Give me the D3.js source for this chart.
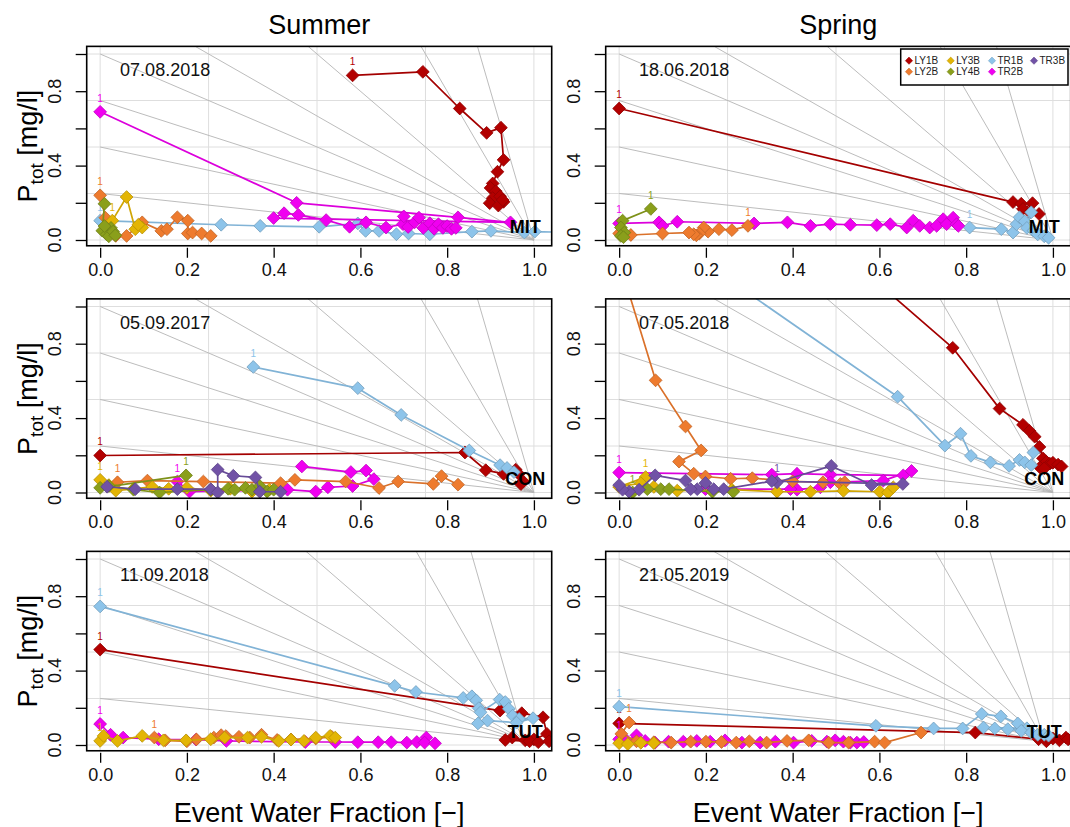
<!DOCTYPE html>
<html><head><meta charset="utf-8">
<script src="https://cdn.jsdelivr.net/npm/d3@7"></script>
<style>html,body{margin:0;padding:0;background:#fff;} svg{display:block;font-family:"Liberation Sans",Arial,Helvetica,sans-serif;}</style>
</head><body><svg id="chart" width="1070" height="827"></svg>
<script>
// ---------- categories / labels ----------
const SERIES = ["LY1B","LY2B","LY3B","LY4B","TR1B","TR2B","TR3B"];
const COLORS = ["#B30000","#EE7B2E","#E3B505","#8A9F1B","#8DC4EA","#F000F0","#7152A6"];
const DRAW_ORDER = ["LY1B","TR1B","TR2B","LY2B","LY3B","LY4B","TR3B"];
const SEASONS = ["Summer","Spring"];
const SITES = ["MIT","CON","TUT"];
const SITE_EM_X = [1.0, 1.0, 0.98];   // end-member (convergence) coordinates
const SITE_EM_Y = [0.0, 0.0, 0.02];
const DATES = [["07.08.2018","18.06.2018"],["05.09.2017","07.05.2018"],["11.09.2018","21.05.2019"]];
const X_TICKS = [0,0.2,0.4,0.6,0.8,1.0];
const Y_TICKS = [0,0.2,0.4,0.6,0.8,1.0];
const Y_TICK_LABELS = [0,0.4,0.8];
const GRID = [0,0.25,0.5,0.75,1.0];
const RAYS = [0.25,0.5,0.75,1,4/3,2,4,8];

// ---------- Summer / MIT  (07.08.2018) ----------
const sMIT_LY1B = [[0.582,0.885],[0.744,0.904],[0.829,0.707],[0.891,0.576],[0.924,0.604],[0.930,0.431],[0.916,0.367],[0.905,0.304],[0.900,0.280],[0.912,0.262],[0.905,0.225],[0.922,0.235],[0.898,0.198],[0.930,0.205],[0.918,0.185],[0.928,0.215]];
const sMIT_LY2B = [[0,0.24],[0.012,0.12],[0.036,0.022],[0.061,0.022],[0.097,0.095],[0.141,0.049],[0.154,0.058],[0.178,0.122],[0.202,0.104],[0.202,0.035],[0.213,0.04],[0.234,0.035],[0.255,0.022]];
const sMIT_LY3B = [[0.028,0.104],[0.061,0.231],[0.081,0.058],[0.097,0.067],[0.088,0.082]];
const sMIT_LY4B = [[0.01,0.195],[0.005,0.05],[0.015,0.03],[0.025,0.065],[0.02,0.02],[0.03,0.045],[0.01,0.075],[0.035,0.025]];
const sMIT_TR1B = [[0,0.104],[0.279,0.082],[0.369,0.076],[0.505,0.071],[0.594,0.089],[0.612,0.049],[0.643,0.049],[0.683,0.031],[0.711,0.035],[0.760,0.031],[0.857,0.045],[0.901,0.049],[0.978,0.04],[1.002,0.045],[1.06,0.042]];
const sMIT_TR2B = [[0,0.689],[0.453,0.2],[0.825,0.122],[0.946,0.095],[0.40,0.118],[0.424,0.144],[0.457,0.135],[0.521,0.107],[0.575,0.071],[0.613,0.095],[0.659,0.067],[0.698,0.085],[0.70,0.127],[0.71,0.07],[0.725,0.095],[0.735,0.12],[0.745,0.065],[0.76,0.09],[0.77,0.06],[0.78,0.085],[0.79,0.065],[0.80,0.075],[0.81,0.06],[0.82,0.065]];
const sMIT_TR3B = [];

// ---------- Spring / MIT  (18.06.2018) ----------
const pMIT_LY1B = [[0,0.707],[0.908,0.204],[0.927,0.195],[0.953,0.198],[0.931,0.167],[0.947,0.149],[0.968,0.14]];
const pMIT_LY2B = [[0.297,0.076],[0.26,0.053],[0.23,0.058],[0.205,0.045],[0.195,0.067],[0.185,0.035],[0.178,0.025],[0.172,0.031],[0.161,0.04],[0.1,0.035],[0.027,0.027],[0,0.035]];
const pMIT_LY3B = [];
const pMIT_LY4B = [[0.073,0.167],[0.008,0.104],[0.004,0.067],[0.012,0.04],[0.004,0.022],[0.01,0.015]];
const pMIT_TR1B = [[0.808,0.067],[0.881,0.058],[0.908,0.04],[0.916,0.085],[0.923,0.122],[0.935,0.1],[0.95,0.149],[0.94,0.065],[0.955,0.05],[0.965,0.03],[0.98,0.02],[0.99,0.012]];
const pMIT_TR2B = [[0,0.089],[0.092,0.095],[0.1,0.076],[0.134,0.098],[0.311,0.089],[0.388,0.095],[0.441,0.076],[0.487,0.085],[0.533,0.082],[0.594,0.08],[0.625,0.085],[0.663,0.067],[0.678,0.104],[0.693,0.076],[0.716,0.067],[0.732,0.076],[0.747,0.112],[0.755,0.085],[0.77,0.12],[0.778,0.085],[0.782,0.076]];
const pMIT_TR3B = [];

// ---------- Summer / CON  (05.09.2017) ----------
const sCON_LY1B = [[0,0.199],[0.841,0.215],[0.889,0.12],[0.93,0.1],[0.958,0.123],[0.965,0.1],[0.975,0.06],[0.97,0.045]];
const sCON_LY2B = [[0.04,0.055],[0.109,0.064],[0.238,0.059],[0.416,0.05],[0.449,0.068],[0.566,0.059],[0.643,0.024],[0.687,0.059],[0.768,0.046],[0.787,0.088],[0.825,0.042]];
const sCON_LY3B = [[0,0.068],[0.02,0.04],[0.036,0.01],[0.077,0.02],[0.12,0.03],[0.158,0.02],[0.2,0.025],[0.255,0.01],[0.30,0.02],[0.35,0.005],[0.39,0.015]];
const sCON_LY4B = [[0.198,0.092],[0.0,0.025],[0.02,0.035],[0.077,0.015],[0.137,0.0],[0.255,0.015],[0.295,0.02],[0.31,0.015],[0.335,0.025],[0.35,0.015],[0.368,0.035],[0.385,0.005],[0.40,0.015]];
const sCON_TR1B = [[0.353,0.675],[0.594,0.561],[0.694,0.417],[0.851,0.226],[0.922,0.147],[0.938,0.132],[0.954,0.11]];
const sCON_TR2B = [[0.178,0.059],[0.206,0.005],[0.432,0.015],[0.497,0.005],[0.525,0.028],[0.582,0.035],[0.631,0.072],[0.613,0.118],[0.578,0.11],[0.465,0.14]];
const sCON_TR3B = [[0.016,0.031],[0.081,0.018],[0.178,0.018],[0.255,0.018],[0.271,0.0],[0.271,0.123],[0.307,0.09],[0.358,0.081],[0.368,0.004],[0.416,0.004]];

// ---------- Spring / CON  (07.05.2018) ----------
const pCON_LY1B = [[0.55,1.22],[0.769,0.778],[0.877,0.451],[0.931,0.364],[0.946,0.331],[0.958,0.3],[0.969,0.245],[0.977,0.184],[0.985,0.165],[0.993,0.155],[1.0,0.16],[1.012,0.15],[0.97,0.135],[0.98,0.13],[1.02,0.14]];
const pCON_LY2B = [[0,1.245],[0.084,0.603],[0.153,0.355],[0.189,0.226],[0.138,0.166],[0.172,0.101],[0.199,0.086],[0.257,0.074],[0.307,0.077],[0.40,0.06],[0.47,0.055],[0.51,0.046],[0.52,0.055]];
const pCON_LY3B = [[0.061,0.083],[0.0,0.03],[0.05,0.05],[0.08,0.03],[0.134,0.01],[0.26,0.015],[0.364,0.004],[0.441,0.004],[0.517,0.009],[0.601,0.004],[0.62,0.0],[0.632,0.028]];
const pCON_LY4B = [[0.031,0.0],[0.065,0.018],[0.096,0.018],[0.115,0.018],[0.215,0.004],[0.263,0.004]];
const pCON_TR1B = [[0.2,1.23],[0.642,0.515],[0.751,0.252],[0.787,0.316],[0.811,0.197],[0.856,0.162],[0.899,0.143],[0.923,0.175],[0.935,0.162],[0.95,0.147],[0.955,0.215]];
const pCON_TR2B = [[0,0.107],[0.352,0.096],[0.41,0.101],[0.487,0.096],[0.655,0.092],[0.674,0.116],[0.609,0.064],[0.487,0.055],[0.464,0.028],[0.41,0.015],[0.395,0.018],[0.199,0.018]];
const pCON_TR3B = [[0.364,0.055],[0.489,0.143],[0.582,0.04],[0.654,0.046],[0.352,0.061],[0.241,0.018],[0.218,0.018],[0.199,0.051],[0.18,0.018],[0.165,0.018],[0.153,0.064],[0.083,0.092],[0.046,0.015],[0.023,0.004],[0.008,0.015],[0,0.04]];

// ---------- Summer / TUT  (11.09.2018) ----------
const sTUT_LY1B = [[0,0.513],[0.922,0.185],[0.972,0.171],[1.021,0.149],[1.03,0.06],[1.0,0.03],[0.98,0.025],[0.95,0.04],[0.934,0.027],[0.99,0.02],[1.01,0.015],[1.035,0.02]];
const sTUT_LY2B = [[0.125,0.04],[0.15,0.025],[0.2,0.02],[0.222,0.03],[0.262,0.04],[0.279,0.053],[0.29,0.048],[0.32,0.044],[0.345,0.04],[0.372,0.055],[0.408,0.027],[0.44,0.03],[0.497,0.035],[0.534,0.044]];
const sTUT_LY3B = [[0,0.022],[0.008,0.049],[0.04,0.022],[0.097,0.049],[0.146,0.025],[0.198,0.025],[0.255,0.031],[0.287,0.04],[0.34,0.04],[0.372,0.044],[0.412,0.022],[0.44,0.029],[0.47,0.022],[0.497,0.04],[0.53,0.049],[0.542,0.04]];
const sTUT_LY4B = [];
const sTUT_TR1B = [[0,0.745],[0.679,0.318],[0.728,0.285],[0.837,0.253],[0.857,0.262],[0.867,0.24],[0.873,0.198],[0.877,0.176],[0.921,0.244],[0.934,0.231],[0.942,0.195],[0.951,0.158],[0.966,0.14],[0.998,0.144],[0.96,0.12],[0.893,0.131],[0.871,0.116]];
const sTUT_TR2B = [[0,0.113],[0.024,0.055],[0.053,0.04],[0.135,0.031],[0.221,0.029],[0.291,0.022],[0.473,0.016],[0.542,0.016],[0.594,0.015],[0.641,0.015],[0.671,0.015],[0.707,0.013],[0.73,0.016],[0.752,0.04],[0.748,0.013],[0.772,0.009]];
const sTUT_TR3B = [];

// ---------- Spring / TUT  (21.05.2019) ----------
const pTUT_LY1B = [[0,0.116],[0.821,0.067],[0.967,0.031],[0.985,0.02],[1.0,0.035],[1.015,0.025],[1.03,0.04],[1.035,0.03],[0.99,0.035]];
const pTUT_LY2B = [[0.023,0.121],[0.005,0.06],[0.04,0.02],[0.08,0.015],[0.12,0.013],[0.165,0.018],[0.2,0.018],[0.236,0.016],[0.27,0.013],[0.3,0.02],[0.34,0.013],[0.387,0.022],[0.437,0.025],[0.483,0.013],[0.529,0.013],[0.589,0.018],[0.612,0.013],[0.696,0.067]];
const pTUT_LY3B = [[0,0.01],[0.02,0.005],[0.05,0.012],[0.08,0.01]];
const pTUT_LY4B = [];
const pTUT_TR1B = [[0,0.206],[0.592,0.103],[0.725,0.089],[0.792,0.089],[0.836,0.167],[0.88,0.154],[0.919,0.116],[0.94,0.09],[0.84,0.094],[0.866,0.089],[0.896,0.085],[0.927,0.076],[0.95,0.067],[0.965,0.055],[0.98,0.055],[0.99,0.05]];
const pTUT_TR2B = [[0,0.031],[0.018,0.022],[0.04,0.052],[0.06,0.022],[0.083,0.013],[0.114,0.018],[0.148,0.018],[0.179,0.022],[0.21,0.018],[0.244,0.025],[0.283,0.013],[0.325,0.013],[0.36,0.018],[0.402,0.013],[0.444,0.022],[0.479,0.018],[0.498,0.025],[0.517,0.018],[0.533,0.013],[0.548,0.013],[0.564,0.016]];
const pTUT_TR3B = [];

// table built from the arrays above
const PANELS = [
  {row:0,col:0,data:{LY1B:sMIT_LY1B,LY2B:sMIT_LY2B,LY3B:sMIT_LY3B,LY4B:sMIT_LY4B,TR1B:sMIT_TR1B,TR2B:sMIT_TR2B,TR3B:sMIT_TR3B}},
  {row:0,col:1,data:{LY1B:pMIT_LY1B,LY2B:pMIT_LY2B,LY3B:pMIT_LY3B,LY4B:pMIT_LY4B,TR1B:pMIT_TR1B,TR2B:pMIT_TR2B,TR3B:pMIT_TR3B}},
  {row:1,col:0,data:{LY1B:sCON_LY1B,LY2B:sCON_LY2B,LY3B:sCON_LY3B,LY4B:sCON_LY4B,TR1B:sCON_TR1B,TR2B:sCON_TR2B,TR3B:sCON_TR3B}},
  {row:1,col:1,data:{LY1B:pCON_LY1B,LY2B:pCON_LY2B,LY3B:pCON_LY3B,LY4B:pCON_LY4B,TR1B:pCON_TR1B,TR2B:pCON_TR2B,TR3B:pCON_TR3B}},
  {row:2,col:0,data:{LY1B:sTUT_LY1B,LY2B:sTUT_LY2B,LY3B:sTUT_LY3B,LY4B:sTUT_LY4B,TR1B:sTUT_TR1B,TR2B:sTUT_TR2B,TR3B:sTUT_TR3B}},
  {row:2,col:1,data:{LY1B:pTUT_LY1B,LY2B:pTUT_LY2B,LY3B:pTUT_LY3B,LY4B:pTUT_LY4B,TR1B:pTUT_TR1B,TR2B:pTUT_TR2B,TR3B:pTUT_TR3B}}
];

// ---------- layout ----------
const COL_LEFT = [86.7, 605.7];
const BOX_W = 465;
const ROW_Y0 = [240, 492.5, 745];
const UNIT_Y = 186;
const DOM = [-0.031, 1.041];
const color = d3.scaleOrdinal().domain(SERIES).range(COLORS);
const diamond = "M0,-6.4L6.4,0L0,6.4L-6.4,0Z";
const smallDiamond = "M0,-3.6L3.6,0L0,3.6L-3.6,0Z";

const svg = d3.select("#chart");
const defs = svg.append("defs");

PANELS.forEach((p, i) => {
  const left = COL_LEFT[p.col], y0 = ROW_Y0[p.row];
  const top = y0 - DOM[1]*UNIT_Y, bottom = y0 - DOM[0]*UNIT_Y;
  const x = d3.scaleLinear().domain(DOM).range([left, left + BOX_W]);
  const y = d3.scaleLinear().domain(DOM).range([bottom, top]);
  const g = svg.append("g");
  const clipId = "clip" + i;
  defs.append("clipPath").attr("id", clipId).append("rect")
    .attr("x", left).attr("y", top).attr("width", BOX_W).attr("height", bottom - top);
  const inner = g.append("g").attr("clip-path", `url(#${clipId})`);

  // grid
  inner.append("g").selectAll("line").data(GRID).join("line")
    .attr("x1", d => x(d)).attr("x2", d => x(d)).attr("y1", top).attr("y2", bottom)
    .attr("stroke", "#dedede").attr("stroke-width", 1);
  inner.append("g").selectAll("line").data(GRID).join("line")
    .attr("y1", d => y(d)).attr("y2", d => y(d)).attr("x1", left).attr("x2", left + BOX_W)
    .attr("stroke", "#dedede").attr("stroke-width", 1);

  // mixing rays to the end-member
  const ex = SITE_EM_X[p.row], ey = SITE_EM_Y[p.row];
  inner.append("g").selectAll("line").data(RAYS).join("line")
    .attr("x1", x(0)).attr("y1", d => y(d)).attr("x2", x(ex)).attr("y2", y(ey))
    .attr("stroke", "#b4b4b4").attr("stroke-width", 0.9);

  // series, each followed by its "1" start label
  const line = d3.line().x(d => x(d[0])).y(d => y(d[1]));
  const placed = [];
  DRAW_ORDER.forEach(s => {
    const pts = p.data[s];
    if (!pts || !pts.length) return;
    const c = color(s);
    inner.append("path").datum(pts).attr("d", line)
      .attr("fill", "none").attr("stroke", d3.color(c).darker(0.25)).attr("stroke-width", 1.7)
      .attr("stroke-linejoin", "round");
    inner.append("g").selectAll("path").data(pts).join("path")
      .attr("d", diamond)
      .attr("transform", d => `translate(${x(d[0])},${y(d[1])})`)
      .attr("fill", c).attr("stroke", d3.color(c).darker(0.6)).attr("stroke-width", 0.8);
    const lx = x(pts[0][0]), ly = y(pts[0][1]) - 10;
    const clash = placed.some(q => Math.abs(q[0] - lx) < 7 && Math.abs(q[1] - ly) < 10);
    if (!clash) {
      placed.push([lx, ly]);
      inner.append("text").attr("x", lx).attr("y", ly)
        .attr("text-anchor", "middle").attr("font-size", 10).attr("fill", c).text("1");
    }
  });

  // date & site labels
  g.append("text").attr("x", x(0.046)).attr("y", y(0.88))
    .attr("font-size", 18).attr("fill", "#111").text(DATES[p.row][p.col]);
  g.append("text").attr("x", x(0.98)).attr("y", y(0.04)).attr("text-anchor", "middle")
    .attr("font-size", 18).attr("font-weight", "bold").attr("fill", "#000").text(SITES[p.row]);

  // box
  g.append("rect").attr("x", left).attr("y", top).attr("width", BOX_W).attr("height", bottom - top)
    .attr("fill", "none").attr("stroke", "#000").attr("stroke-width", 1.6);

  // x axis
  const xa = g.append("g").attr("transform", `translate(0,${bottom + 2})`)
    .call(d3.axisBottom(x).tickValues(X_TICKS).tickSize(10).tickPadding(5).tickFormat(d3.format(".1f")));
  xa.select(".domain").remove();
  xa.selectAll("line").attr("stroke-width", 1.3);
  xa.selectAll("text").attr("font-size", 18).attr("font-family", "Liberation Sans, Arial, sans-serif").attr("fill", "#111");

  // y axis
  const ya = g.append("g").attr("transform", `translate(${left},0)`)
    .call(d3.axisLeft(y).tickValues(Y_TICKS).tickSize(11).tickFormat(""));
  ya.select(".domain").remove();
  ya.selectAll("line").attr("stroke-width", 1.3);
  g.append("g").selectAll("text").data(Y_TICK_LABELS).join("text")
    .attr("transform", d => `translate(${left - 25.5},${y(d)}) rotate(-90)`)
    .attr("text-anchor", "middle").attr("font-size", 18).attr("fill", "#111")
    .text(d => d3.format(".1f")(d));

  // titles
  const cx = left + BOX_W / 2;
  if (p.row === 0) {
    g.append("text").attr("x", cx).attr("y", 34).attr("text-anchor", "middle")
      .attr("font-size", 27).attr("fill", "#000").text(SEASONS[p.col]);
  }
  if (p.row === 2) {
    g.append("text").attr("x", cx).attr("y", 822).attr("text-anchor", "middle")
      .attr("font-size", 27).attr("fill", "#000").text("Event Water Fraction [\u2212]");
  }
  if (p.col === 0) {
    const t = g.append("text")
      .attr("transform", `translate(37,${(top + bottom) / 2}) rotate(-90)`)
      .attr("text-anchor", "middle").attr("font-size", 27).attr("fill", "#000");
    t.append("tspan").text("P");
    t.append("tspan").attr("font-size", 19).attr("dy", 6).text("tot");
    t.append("tspan").attr("dy", -6).text(" [mg/l]");
  }

  // legend (top-right panel)
  if (p.row === 0 && p.col === 1) {
    const lg = g.append("g");
    lg.append("rect").attr("x", 900.7).attr("y", 49).attr("width", 167.3).attr("height", 36)
      .attr("fill", "#fff").attr("stroke", "#000").attr("stroke-width", 1.5);
    const colXs = [909, 950.7, 992, 1034];
    const rowYs = [60.7, 71.7];
    SERIES.forEach((s, k) => {
      const cxL = colXs[Math.floor(k / 2)], cyL = rowYs[k % 2];
      lg.append("path").attr("d", smallDiamond).attr("transform", `translate(${cxL},${cyL})`)
        .attr("fill", color(s)).attr("stroke", d3.color(color(s)).darker(0.5)).attr("stroke-width", 0.6);
      lg.append("text").attr("x", cxL + 5.5).attr("y", cyL + 3.5).attr("font-size", 10)
        .attr("fill", "#222").text(s);
    });
  }
});
</script></body></html>
